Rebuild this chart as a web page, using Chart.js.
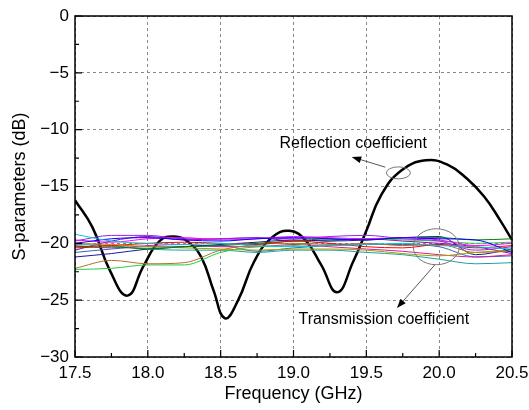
<!DOCTYPE html>
<html>
<head>
<meta charset="utf-8">
<script src="https://cdn.jsdelivr.net/npm/chart.js@4/dist/chart.umd.min.js"></script>
<style>
  html, body { margin: 0; padding: 0; background: #fff; }
  #wrap { width: 529px; height: 410px; }
</style>
</head>
<body>
<div id="wrap"><canvas id="sChart" width="529" height="410"></canvas></div>
<script>
// reflection coefficient (black curve)
const reflFreq = [17.5, 17.62, 17.74, 17.86, 17.97, 18.08, 18.18, 18.28, 18.37, 18.45, 18.53, 18.62, 18.73, 18.85, 18.97, 19.08, 19.19, 19.3, 19.41, 19.5, 19.6, 19.74, 19.91, 20.06, 20.19, 20.31, 20.42, 20.5];
const reflDb = [-16.2, -18.6, -22.4, -24.6, -22.0, -19.8, -19.4, -19.9, -21.3, -24.1, -26.6, -25.0, -21.6, -19.5, -18.9, -19.7, -21.9, -24.3, -21.6, -18.9, -15.8, -13.6, -12.7, -13.1, -14.3, -15.9, -18.0, -19.7];

// transmission coefficients (thin coloured curves)
const transFreq = [17.5, 17.75, 18.0, 18.25, 18.5, 18.75, 19.0, 19.25, 19.5, 19.75, 20.0, 20.25, 20.5];
const trans01 = [-19.2, -19.8, -20.0, -20.1, -20.0, -20.2, -20.3, -20.2, -20.1, -20.0, -20.2, -20.3, -20.5];
const trans02 = [-20.0, -19.6, -19.5, -19.7, -19.8, -19.6, -19.5, -19.6, -19.7, -19.5, -19.6, -19.7, -20.8];
const trans03 = [-19.7, -19.9, -19.6, -19.5, -19.7, -19.6, -19.4, -19.5, -19.6, -19.5, -19.7, -20.2, -20.0];
const trans04 = [-19.8, -19.3, -19.3, -19.6, -19.6, -19.5, -19.6, -19.4, -19.3, -19.6, -19.8, -20.6, -20.3];
const trans05 = [-20.3, -20.2, -20.0, -19.9, -20.0, -20.1, -19.8, -20.0, -20.3, -20.4, -20.1, -20.4, -20.2];
const trans06 = [-20.4, -20.3, -20.5, -20.3, -20.2, -20.0, -19.8, -19.6, -19.7, -19.5, -19.5, -19.7, -19.6];
const trans07 = [-20.0, -20.1, -20.3, -20.4, -20.5, -20.6, -20.5, -20.5, -20.6, -20.9, -21.1, -20.8, -20.6];
const trans08 = [-22.2, -21.5, -21.8, -21.7, -20.6, -20.1, -20.0, -20.1, -20.0, -20.2, -20.1, -20.8, -20.7];
const trans09 = [-21.2, -20.9, -20.5, -20.3, -20.1, -19.9, -19.7, -19.8, -19.7, -19.5, -19.4, -21.0, -20.5];
const trans10 = [-22.3, -22.2, -21.9, -21.9, -20.8, -20.3, -20.2, -19.8, -19.6, -19.7, -19.8, -20.0, -19.9];
const trans11 = [-20.2, -20.4, -20.2, -20.1, -20.3, -20.3, -20.1, -20.3, -20.5, -20.7, -21.0, -21.2, -21.0];
const trans12 = [-20.1, -20.2, -20.5, -20.6, -20.6, -20.8, -20.6, -20.6, -20.8, -21.0, -21.4, -21.8, -21.7];
const trans13 = [-20.8, -20.5, -20.3, -20.3, -20.2, -20.7, -20.4, -20.2, -20.1, -20.1, -20.3, -21.2, -21.1];
const trans14 = [-20.6, -19.8, -19.4, -19.7, -19.6, -19.5, -19.8, -19.7, -19.6, -19.8, -20.0, -20.3, -20.9];
const transSeries = [trans01, trans02, trans03, trans04, trans05, trans06, trans07, trans08, trans09, trans10, trans11, trans12, trans13, trans14];
const transColors = ['#00c8d8', '#0000ff', '#ff00ff', '#8a2be2', '#ff0000', '#008000', '#a0a000', '#b0702a', '#1a1aa0', '#22cc44', '#d0209a', '#20a0a0', '#4060c0', '#a000a0'];

// axis ticks
const xTicks = [17.5, 18.0, 18.5, 19.0, 19.5, 20.0, 20.5];
const yTicks = [0, -5, -10, -15, -20, -25, -30];

const FONT = 'Liberation Sans, Arial, sans-serif';

const toPoints = (xs, ys) => xs.map((x, i) => ({ x: x, y: ys[i] }));

const datasets = transSeries.map((s, i) => ({
    label: 'S21 ' + (i + 1),
    data: toPoints(transFreq, s),
    borderColor: transColors[i],
    borderWidth: 1,
    pointRadius: 0,
    cubicInterpolationMode: 'monotone',
}));
datasets.push({
    label: 'Reflection coefficient',
    data: toPoints(reflFreq, reflDb),
    borderColor: '#000',
    borderWidth: 2.5,
    pointRadius: 0,
    tension: 0.45,
});

const minus = (v) => (v < 0 ? '\u2212' + Math.abs(v) : String(v));

// box, inward ticks and the two callouts
const decor = {
    id: 'decor',
    afterDatasetsDraw(chart) {
        const { ctx, chartArea: a, scales: { x, y } } = chart;
        ctx.save();
        ctx.strokeStyle = '#000';
        ctx.lineWidth = 1.5;
        ctx.setLineDash([]);
        ctx.strokeRect(a.left, a.top, a.right - a.left, a.bottom - a.top);

        ctx.lineWidth = 1.2;
        ctx.beginPath();
        for (let k = 0; k <= 12; k++) {
            const px = x.getPixelForValue(17.5 + k * 0.25);
            const len = k % 2 === 0 ? 7 : 4;
            ctx.moveTo(px, a.bottom);
            ctx.lineTo(px, a.bottom - len);
        }
        for (let k = 0; k <= 12; k++) {
            const py = y.getPixelForValue(-k * 2.5);
            const len = k % 2 === 0 ? 7 : 4;
            ctx.moveTo(a.left, py);
            ctx.lineTo(a.left + len, py);
        }
        ctx.stroke();

        // ellipses
        ctx.strokeStyle = '#777';
        ctx.lineWidth = 1;
        ctx.beginPath();
        ctx.ellipse(x.getPixelForValue(19.72), y.getPixelForValue(-13.8), 12, 6, 0, 0, Math.PI * 2);
        ctx.stroke();
        ctx.beginPath();
        ctx.ellipse(x.getPixelForValue(19.98), y.getPixelForValue(-20.3), 23, 18, 0, 0, Math.PI * 2);
        ctx.stroke();

        const arrow = (x1, y1, x2, y2) => {
            const ang = Math.atan2(y2 - y1, x2 - x1);
            ctx.strokeStyle = '#555';
            ctx.lineWidth = 1;
            ctx.beginPath();
            ctx.moveTo(x1, y1);
            ctx.lineTo(x2 - 6 * Math.cos(ang), y2 - 6 * Math.sin(ang));
            ctx.stroke();
            ctx.fillStyle = '#000';
            ctx.beginPath();
            ctx.moveTo(x2, y2);
            ctx.lineTo(x2 - 10 * Math.cos(ang - 0.35), y2 - 10 * Math.sin(ang - 0.35));
            ctx.lineTo(x2 - 10 * Math.cos(ang + 0.35), y2 - 10 * Math.sin(ang + 0.35));
            ctx.closePath();
            ctx.fill();
        };
        arrow(x.getPixelForValue(19.63), y.getPixelForValue(-13.3), x.getPixelForValue(19.4), y.getPixelForValue(-12.4));
        arrow(x.getPixelForValue(19.97), y.getPixelForValue(-21.9), x.getPixelForValue(19.71), y.getPixelForValue(-25.7));

        ctx.fillStyle = '#000';
        ctx.font = '16px ' + FONT;
        ctx.textAlign = 'center';
        ctx.textBaseline = 'middle';
        ctx.fillText('Reflection coefficient', x.getPixelForValue(19.41), y.getPixelForValue(-11.25));
        ctx.fillText('Transmission coefficient', x.getPixelForValue(19.62), y.getPixelForValue(-26.7));
        ctx.restore();
    }
};

new Chart(document.getElementById('sChart').getContext('2d'), {
    type: 'line',
    data: { datasets: datasets },
    options: {
        responsive: false,
        devicePixelRatio: 1,
        animation: false,
        events: [],
        layout: { padding: { top: 16, right: 17, left: 0, bottom: 0 } },
        plugins: { legend: { display: false }, tooltip: { enabled: false } },
        scales: {
            x: {
                type: 'linear',
                min: 17.5,
                max: 20.5,
                afterFit: (s) => { s.height = 53; s.paddingLeft = 0; s.paddingRight = 0; },
                afterBuildTicks: (s) => { s.ticks = xTicks.map((v) => ({ value: v })); },
                ticks: {
                    color: '#000',
                    padding: 6,
                    maxRotation: 0,
                    font: { family: FONT, size: 17 },
                    callback: (v) => Number(v).toFixed(1),
                },
                grid: { color: '#888', lineWidth: 1, drawTicks: false },
                border: { display: false, dash: [3, 3] },
                title: {
                    display: true,
                    text: 'Frequency (GHz)',
                    color: '#000',
                    font: { family: FONT, size: 18 },
                    padding: { top: 0, bottom: 5 },
                },
            },
            y: {
                min: -30,
                max: 0,
                afterFit: (s) => { s.width = 75; s.paddingTop = 0; s.paddingBottom = 0; },
                afterBuildTicks: (s) => { s.ticks = yTicks.map((v) => ({ value: v })); },
                ticks: {
                    color: '#000',
                    padding: 6,
                    font: { family: FONT, size: 17 },
                    callback: minus,
                },
                grid: { color: '#888', lineWidth: 1, drawTicks: false },
                border: { display: false, dash: [3, 3] },
                title: {
                    display: true,
                    text: 'S-parameters (dB)',
                    color: '#000',
                    font: { family: FONT, size: 18 },
                    padding: { top: 9, bottom: 0 },
                },
            },
        },
    },
    plugins: [decor],
});
</script>
</body>
</html>
